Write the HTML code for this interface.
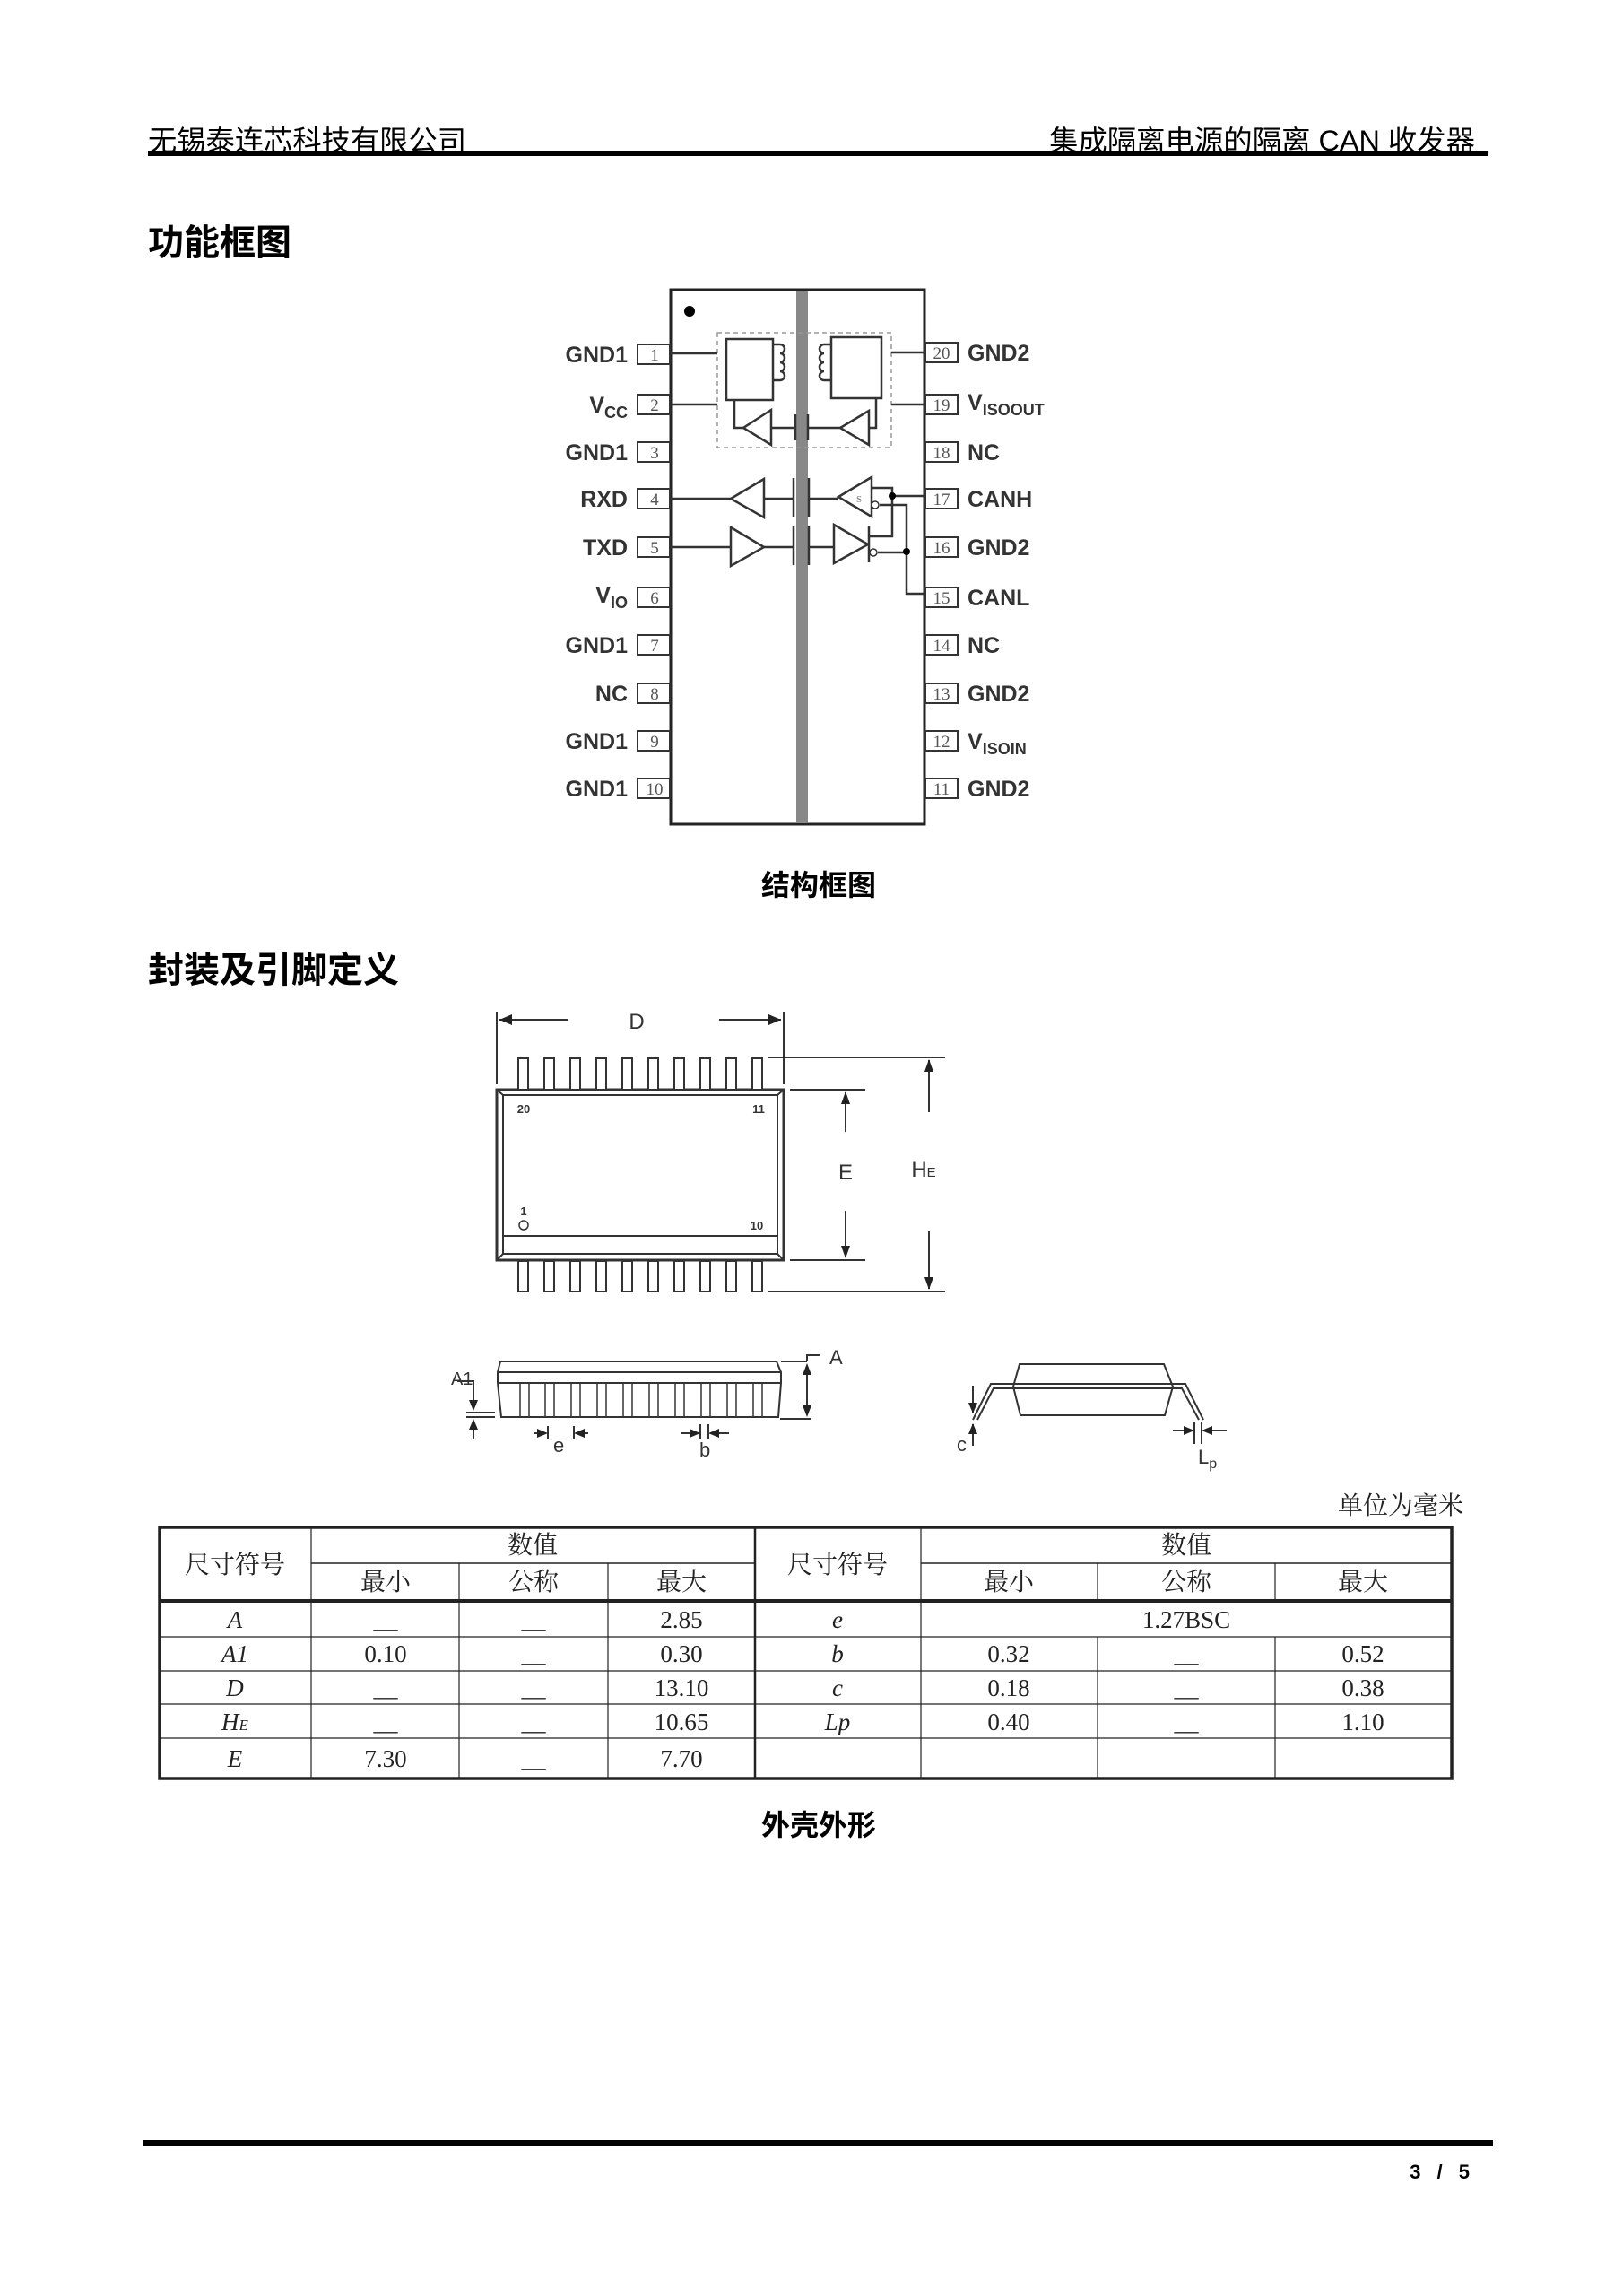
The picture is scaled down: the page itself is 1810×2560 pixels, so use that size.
<!DOCTYPE html>
<html><head><meta charset="utf-8"><style>
html,body{margin:0;padding:0;background:#fff;}
svg{display:block;}
.cn{font-family:"Liberation Sans","Noto Sans CJK SC",sans-serif;}
.b{font-family:"Liberation Sans",sans-serif;font-weight:bold;}
.s{font-family:"Liberation Serif","Noto Serif CJK SC",serif;}
</style></head><body>
<svg width="1810" height="2560" viewBox="0 0 1810 2560" xmlns="http://www.w3.org/2000/svg">
<!-- header -->
<text x="165" y="168" class="cn" font-size="32" fill="#000" textLength="355" lengthAdjust="spacingAndGlyphs">无锡泰连芯科技有限公司</text>
<text x="1170" y="168" class="cn" font-size="32" fill="#000" textLength="475" lengthAdjust="spacingAndGlyphs">集成隔离电源的隔离 CAN 收发器</text>
<rect x="165" y="168" width="1494" height="6" fill="#000"/>
<text x="165" y="284" class="cn" font-size="40" font-weight="bold">功能框图</text>

<!-- chip -->
<g stroke="#222" fill="none" stroke-width="3">
<rect x="748" y="323" width="283" height="596"/>
</g>
<rect x="888" y="324" width="13" height="594" fill="#888"/>
<circle cx="769" cy="347" r="6" fill="#000"/>
<g font-family="Liberation Sans" font-weight="bold" font-size="25" fill="#333">
<text x="700" y="404" text-anchor="end">GND1</text>
<text x="700" y="460" text-anchor="end">V<tspan font-size="18" dy="6">CC</tspan></text>
<text x="700" y="513" text-anchor="end">GND1</text>
<text x="700" y="565" text-anchor="end">RXD</text>
<text x="700" y="619" text-anchor="end">TXD</text>
<text x="700" y="672" text-anchor="end">V<tspan font-size="18" dy="6">IO</tspan></text>
<text x="700" y="728" text-anchor="end">GND1</text>
<text x="700" y="782" text-anchor="end">NC</text>
<text x="700" y="835" text-anchor="end">GND1</text>
<text x="700" y="888" text-anchor="end">GND1</text>
<text x="1079" y="402">GND2</text>
<text x="1079" y="457">V<tspan font-size="18" dy="6">ISOOUT</tspan></text>
<text x="1079" y="513">NC</text>
<text x="1079" y="565">CANH</text>
<text x="1079" y="619">GND2</text>
<text x="1079" y="675">CANL</text>
<text x="1079" y="728">NC</text>
<text x="1079" y="782">GND2</text>
<text x="1079" y="835">V<tspan font-size="18" dy="6">ISOIN</tspan></text>
<text x="1079" y="888">GND2</text>
</g>
<g stroke="#333" stroke-width="2" fill="#fff">
<rect x="711" y="384" width="36" height="22"/><rect x="711" y="440" width="36" height="22"/>
<rect x="711" y="493" width="36" height="22"/><rect x="711" y="545" width="36" height="22"/>
<rect x="711" y="599" width="36" height="22"/><rect x="711" y="655" width="36" height="22"/>
<rect x="711" y="708" width="36" height="22"/><rect x="711" y="762" width="36" height="22"/>
<rect x="711" y="815" width="36" height="22"/><rect x="711" y="868" width="36" height="22"/>
<rect x="1032" y="382" width="36" height="22"/><rect x="1032" y="440" width="36" height="22"/>
<rect x="1032" y="493" width="36" height="22"/><rect x="1032" y="545" width="36" height="22"/>
<rect x="1032" y="599" width="36" height="22"/><rect x="1032" y="655" width="36" height="22"/>
<rect x="1032" y="708" width="36" height="22"/><rect x="1032" y="762" width="36" height="22"/>
<rect x="1032" y="815" width="36" height="22"/><rect x="1032" y="868" width="36" height="22"/>
</g>
<g font-family="Liberation Serif" font-size="19" fill="#555" text-anchor="middle">
<text x="730" y="402">1</text><text x="730" y="458">2</text><text x="730" y="511">3</text><text x="730" y="563">4</text><text x="730" y="617">5</text><text x="730" y="673">6</text><text x="730" y="726">7</text><text x="730" y="780">8</text><text x="730" y="833">9</text><text x="730" y="886">10</text>
<text x="1050" y="400">20</text><text x="1050" y="458">19</text><text x="1050" y="511">18</text><text x="1050" y="563">17</text><text x="1050" y="617">16</text><text x="1050" y="673">15</text><text x="1050" y="726">14</text><text x="1050" y="780">13</text><text x="1050" y="833">12</text><text x="1050" y="886">11</text>
</g>
<!-- isolated power -->
<rect x="800" y="371" width="194" height="128" fill="none" stroke="#999" stroke-width="1.5" stroke-dasharray="5,4"/>
<g stroke="#333" stroke-width="2.5" fill="none">
<line x1="748" y1="394" x2="800" y2="394"/><line x1="748" y1="451" x2="800" y2="451"/>
<line x1="994" y1="393" x2="1031" y2="393"/><line x1="994" y1="451" x2="1031" y2="451"/>
<rect x="810" y="378" width="52" height="68"/><rect x="927" y="376" width="56" height="68"/>
<path d="M862 384 h8 a5 5 0 0 1 0 10 a5 5 0 0 1 0 10 a5 5 0 0 1 0 10 a5 5 0 0 1 0 10 h-8"/>
<path d="M927 384 h-8 a5 5 0 0 0 0 10 a5 5 0 0 0 0 10 a5 5 0 0 0 0 10 a5 5 0 0 0 0 10 h8"/>
<path d="M819 446 V477 H829"/>
<path d="M860 457 L829 477 L860 496 Z"/>
<line x1="860" y1="477" x2="887" y2="477"/><line x1="902" y1="477" x2="937" y2="477"/>
<line x1="887" y1="462" x2="887" y2="491"/><line x1="901" y1="462" x2="901" y2="491"/>
<path d="M969 458 L937 477 L969 496 Z"/>
<path d="M969 477 H977 V444"/>
<!-- RXD -->
<line x1="748" y1="556" x2="815" y2="556"/>
<path d="M852 534 L815 556 L852 577 Z"/>
<line x1="852" y1="556" x2="885" y2="556"/><line x1="902" y1="556" x2="935" y2="556"/>
<line x1="885" y1="533" x2="885" y2="576"/><line x1="902" y1="533" x2="902" y2="576"/>
<line x1="885" y1="587" x2="885" y2="630"/><line x1="902" y1="587" x2="902" y2="630"/>
<path d="M972 532 L935 554 L972 576 Z"/>
<path d="M972 544 H995 V598 H969"/>
<line x1="995" y1="553" x2="1031" y2="553"/>
<path d="M981 563 H1011 V662 H1031"/>
<!-- TXD -->
<line x1="748" y1="610" x2="815" y2="610"/>
<path d="M815 588 L852 610 L815 631 Z"/>
<line x1="852" y1="610" x2="885" y2="610"/><line x1="902" y1="610" x2="930" y2="610"/>
<path d="M930 585 L968 607 L930 628 Z"/>
<line x1="969" y1="587" x2="969" y2="627"/>
<line x1="979" y1="616" x2="1011" y2="616"/>
</g>
<text x="958" y="560" font-size="11" fill="#777" text-anchor="middle" font-family="Liberation Serif">S</text>
<g fill="#fff" stroke="#333" stroke-width="1.5"><circle cx="976" cy="563" r="4"/><circle cx="974" cy="616" r="4"/></g>
<circle cx="995" cy="553" r="4" fill="#000"/><circle cx="1011" cy="615" r="4" fill="#000"/>

<text x="913" y="998" text-anchor="middle" class="cn" font-size="32" font-weight="bold">结构框图</text>
<text x="165" y="1095" class="cn" font-size="40" font-weight="bold">封装及引脚定义</text>

<!-- top view package -->
<g stroke="#333" stroke-width="2" fill="none">
<line x1="554" y1="1128" x2="554" y2="1209"/><line x1="874" y1="1128" x2="874" y2="1209"/>
<line x1="557" y1="1137" x2="634" y2="1137"/><line x1="802" y1="1137" x2="871" y2="1137"/>
<rect x="554" y="1215" width="320" height="190" stroke-width="3"/>
<path d="M554 1215 L561 1221 H867 L874 1215 M561 1221 V1398 H867 V1221 M554 1405 L561 1398 M874 1405 L867 1398"/>
<line x1="561" y1="1378" x2="867" y2="1378"/>
<line x1="856" y1="1179" x2="1054" y2="1179"/><line x1="856" y1="1440" x2="1054" y2="1440"/>
<line x1="881" y1="1215" x2="965" y2="1215"/><line x1="881" y1="1405" x2="965" y2="1405"/>
<line x1="943" y1="1218" x2="943" y2="1262"/><line x1="943" y1="1350" x2="943" y2="1402"/>
<line x1="1036" y1="1182" x2="1036" y2="1240"/><line x1="1036" y1="1372" x2="1036" y2="1437"/>
</g>
<g fill="#222">
<path d="M557 1137 l14 -6 v12 z"/><path d="M871 1137 l-14 -6 v12 z"/>
<path d="M943 1217 l-5 14 h10 z"/><path d="M943 1403 l-5 -14 h10 z"/>
<path d="M1036 1181 l-5 14 h10 z"/><path d="M1036 1438 l-5 -14 h10 z"/>
</g>
<g stroke="#333" stroke-width="2" fill="#fff">
<rect x="578" y="1180" width="11" height="35"/><rect x="607" y="1180" width="11" height="35"/><rect x="636" y="1180" width="11" height="35"/><rect x="665" y="1180" width="11" height="35"/><rect x="694" y="1180" width="11" height="35"/><rect x="723" y="1180" width="11" height="35"/><rect x="752" y="1180" width="11" height="35"/><rect x="781" y="1180" width="11" height="35"/><rect x="810" y="1180" width="11" height="35"/><rect x="839" y="1180" width="11" height="35"/>
<rect x="578" y="1406" width="11" height="34"/><rect x="607" y="1406" width="11" height="34"/><rect x="636" y="1406" width="11" height="34"/><rect x="665" y="1406" width="11" height="34"/><rect x="694" y="1406" width="11" height="34"/><rect x="723" y="1406" width="11" height="34"/><rect x="752" y="1406" width="11" height="34"/><rect x="781" y="1406" width="11" height="34"/><rect x="810" y="1406" width="11" height="34"/><rect x="839" y="1406" width="11" height="34"/>
</g>
<circle cx="584" cy="1366" r="5" fill="none" stroke="#333" stroke-width="1.5"/>
<g font-family="Liberation Sans" fill="#333">
<text x="710" y="1147" font-size="24" text-anchor="middle">D</text>
<text x="943" y="1315" font-size="24" text-anchor="middle">E</text>
<text x="1030" y="1312" font-size="24" text-anchor="middle">H<tspan font-size="15">E</tspan></text>
<text x="584" y="1241" font-size="13" font-weight="bold" text-anchor="middle">20</text>
<text x="846" y="1241" font-size="13" font-weight="bold" text-anchor="middle">11</text>
<text x="584" y="1355" font-size="13" font-weight="bold" text-anchor="middle">1</text>
<text x="844" y="1371" font-size="13" font-weight="bold" text-anchor="middle">10</text>
</g>

<!-- side view -->
<g stroke="#333" stroke-width="2" fill="none">
<path d="M558 1518 H866 L871 1530 V1542 L868 1580 H559 L555 1542 V1530 Z"/>
<line x1="556" y1="1530" x2="870" y2="1530"/><line x1="555" y1="1542" x2="871" y2="1542"/>
<line x1="520" y1="1575" x2="552" y2="1575"/><line x1="520" y1="1580" x2="552" y2="1580"/>
<line x1="870" y1="1582" x2="905" y2="1582"/><line x1="871" y1="1518" x2="900" y2="1518"/>
<path d="M900 1518 V1511 H915"/>
<line x1="900" y1="1524" x2="900" y2="1577"/>
<line x1="528" y1="1548" x2="528" y2="1570"/><line x1="528" y1="1585" x2="528" y2="1605"/>
<path d="M510 1540 H528 V1548"/>
<line x1="611" y1="1590" x2="611" y2="1605"/><line x1="640" y1="1590" x2="640" y2="1605"/>
<line x1="596" y1="1598" x2="609" y2="1598"/><line x1="642" y1="1598" x2="656" y2="1598"/>
<line x1="781" y1="1588" x2="781" y2="1605"/><line x1="790" y1="1588" x2="790" y2="1605"/>
<line x1="760" y1="1598" x2="779" y2="1598"/><line x1="792" y1="1598" x2="813" y2="1598"/>
<!-- end view -->
<path d="M1137 1521 H1298 L1308 1546 L1299 1578 H1138 L1130 1546 Z"/>
<path d="M1085 1583 L1105 1543 H1322 L1342 1583"/>
<path d="M1090 1583 L1108 1548 H1318 L1337 1583"/>
<line x1="1085" y1="1545" x2="1085" y2="1575"/><line x1="1085" y1="1588" x2="1085" y2="1612"/>
<line x1="1332" y1="1585" x2="1332" y2="1610"/><line x1="1340" y1="1585" x2="1340" y2="1610"/>
<line x1="1308" y1="1595" x2="1330" y2="1595"/><line x1="1342" y1="1595" x2="1368" y2="1595"/>
</g>
<g stroke="#333" stroke-width="1.5" fill="none">
<path d="M580 1542 v38 h10 v-38 M608 1542 v38 h10 v-38 M637 1542 v38 h10 v-38 M666 1542 v38 h10 v-38 M695 1542 v38 h10 v-38 M724 1542 v38 h10 v-38 M753 1542 v38 h10 v-38 M782 1542 v38 h10 v-38 M811 1542 v38 h10 v-38 M840 1542 v38 h10 v-38"/>
</g>
<g fill="#222">
<path d="M900 1520 l-5 13 h10 z"/><path d="M900 1580 l-5 -13 h10 z"/>
<path d="M528 1573 l-5 -12 h10 z"/><path d="M528 1582 l-5 12 h10 z"/>
<path d="M611 1598 l-12 -5 v10 z"/><path d="M640 1598 l12 -5 v10 z"/>
<path d="M781 1598 l-12 -5 v10 z"/><path d="M790 1598 l12 -5 v10 z"/>
<path d="M1085 1576 l-5 -12 h10 z"/><path d="M1085 1587 l-5 12 h10 z"/>
<path d="M1332 1595 l-12 -5 v10 z"/><path d="M1340 1595 l12 -5 v10 z"/>
</g>
<g font-family="Liberation Sans" fill="#333" font-size="22">
<text x="925" y="1521">A</text>
<text x="503" y="1544" font-size="20">A1</text>
<text x="617" y="1619">e</text>
<text x="780" y="1624">b</text>
<text x="1067" y="1618">c</text>
<text x="1336" y="1632">L<tspan font-size="16" dy="5">p</tspan></text>
</g>

<!-- table -->
<text x="1632" y="1688" class="s" font-size="28" text-anchor="end" fill="#222">单位为毫米</text>
<g stroke="#222" fill="none">
<rect x="178" y="1703" width="1441" height="280" stroke-width="3.5"/>
<line x1="178" y1="1785" x2="1619" y2="1785" stroke-width="4"/>
<line x1="842" y1="1703" x2="842" y2="1983" stroke-width="2.5"/>
<line x1="347" y1="1743" x2="842" y2="1743" stroke-width="1.5"/><line x1="1027" y1="1743" x2="1619" y2="1743" stroke-width="1.5"/>
<g stroke-width="1.2">
<line x1="347" y1="1703" x2="347" y2="1983"/><line x1="512" y1="1743" x2="512" y2="1983"/><line x1="678" y1="1743" x2="678" y2="1983"/>
<line x1="1027" y1="1703" x2="1027" y2="1983"/><line x1="1224" y1="1743" x2="1224" y2="1785"/><line x1="1422" y1="1743" x2="1422" y2="1785"/>
<line x1="1224" y1="1825" x2="1224" y2="1983"/><line x1="1422" y1="1825" x2="1422" y2="1983"/>
<line x1="178" y1="1825" x2="1619" y2="1825"/><line x1="178" y1="1863" x2="1619" y2="1863"/>
<line x1="178" y1="1900" x2="1619" y2="1900"/><line x1="178" y1="1938" x2="1619" y2="1938"/>
</g>
</g>
<g font-size="28" fill="#222" text-anchor="middle" font-family="Liberation Serif,'Noto Serif CJK SC',serif">
<text x="262" y="1754">尺寸符号</text><text x="594" y="1732">数值</text>
<text x="430" y="1773">最小</text><text x="595" y="1773">公称</text><text x="760" y="1773">最大</text>
<text x="934" y="1754">尺寸符号</text><text x="1323" y="1732">数值</text>
<text x="1125" y="1773">最小</text><text x="1323" y="1773">公称</text><text x="1520" y="1773">最大</text>
</g>
<g font-family="Liberation Serif" font-size="27" fill="#222" text-anchor="middle">
<text x="262" y="1815" font-style="italic">A</text><text x="430" y="1815">__</text><text x="595" y="1815">__</text><text x="760" y="1815">2.85</text>
<text x="262" y="1853" font-style="italic">A1</text><text x="430" y="1853">0.10</text><text x="595" y="1853">__</text><text x="760" y="1853">0.30</text>
<text x="262" y="1891" font-style="italic">D</text><text x="430" y="1891">__</text><text x="595" y="1891">__</text><text x="760" y="1891">13.10</text>
<text x="262" y="1929" font-style="italic">H<tspan font-size="17">E</tspan></text><text x="430" y="1929">__</text><text x="595" y="1929">__</text><text x="760" y="1929">10.65</text>
<text x="262" y="1970" font-style="italic">E</text><text x="430" y="1970">7.30</text><text x="595" y="1970">__</text><text x="760" y="1970">7.70</text>
<text x="934" y="1815" font-style="italic">e</text><text x="1323" y="1815">1.27BSC</text>
<text x="934" y="1853" font-style="italic">b</text><text x="1125" y="1853">0.32</text><text x="1323" y="1853">__</text><text x="1520" y="1853">0.52</text>
<text x="934" y="1891" font-style="italic">c</text><text x="1125" y="1891">0.18</text><text x="1323" y="1891">__</text><text x="1520" y="1891">0.38</text>
<text x="934" y="1929" font-style="italic">Lp</text><text x="1125" y="1929">0.40</text><text x="1323" y="1929">__</text><text x="1520" y="1929">1.10</text>
</g>
<text x="913" y="2046" text-anchor="middle" class="cn" font-size="32" font-weight="bold">外壳外形</text>

<!-- footer -->
<rect x="160" y="2386" width="1505" height="7" fill="#000"/>
<text x="1645" y="2429" text-anchor="end" class="b" font-size="22" letter-spacing="6">3 / 5</text>
</svg>
</body></html>
